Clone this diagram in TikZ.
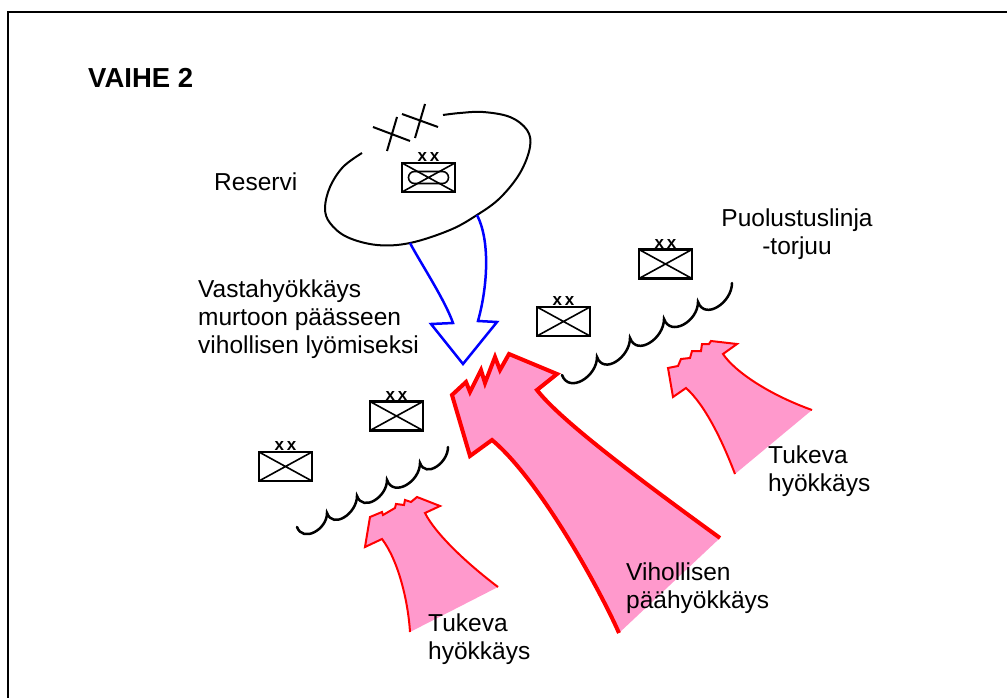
\documentclass[tikz,border=0pt]{standalone}
\usepackage{fontspec}
\setmainfont{Liberation Sans}
\definecolor{atkpink}{RGB}{255,153,204}
\tikzset{
  lbl/.style={font=\fontsize{24.5}{28}\selectfont, inner sep=0pt, align=left, anchor=base west},
  unitbox/.style={draw, line width=2.7pt, minimum width=53pt, minimum height=29pt, inner sep=0pt,
    path picture={\draw[line width=1.6pt]
      (path picture bounding box.north west) -- (path picture bounding box.south east)
      (path picture bounding box.south west) -- (path picture bounding box.north east);},
    label={[inner sep=0pt, label distance=-0.5pt, font=\fontsize{17}{17}\selectfont\bfseries]above:x\,x}},
  front/.style={line width=2.5pt, line cap=round},
  atkline/.style={red, line width=2pt, line join=miter},
}
\begin{document}
\begin{tikzpicture}[x=1pt,y=1pt]
  \useasboundingbox (0,0) rectangle (1007,-698);
  \draw[line width=2.5pt] (8,-698) -- (8,-12) -- (1007,-12);

  \node[lbl, font=\fontsize{27.5}{30}\selectfont\bfseries] (vaihe) at (88,-88) {VAIHE 2};

  % reserve
  \draw[line width=2pt] plot[smooth, tension=0.6] coordinates {(443,-115) (460,-113) (483,-112)
    (510,-117) (527,-130) (530,-147) (520,-173) (500,-198) (477,-215) (450,-230) (410,-243)
    (377,-245) (347,-237) (330,-223) (325,-208) (330,-187) (343,-167) (362,-153)};
  \draw[line width=2pt] (373,-127) -- (410,-141) (402,-114) -- (438,-127)
    (387,-151) -- (397,-117) (415,-138) -- (425,-104);
  \node[unitbox] (res) at (428.5,-177.5) {};
  \draw[line width=1.6pt, rounded corners=6pt] ([shift={(-20,-6)}]res.center) rectangle ([shift={(20,6)}]res.center);
  \node[lbl] (reservi) at (214,-190) {Reservi};

  % counter attack
  \draw[blue, line width=2.5pt, line join=miter] (410,-243) .. controls (420,-262) and (445,-300) .. (453,-323)
    -- (431,-324) -- (463,-364) -- (497,-322) -- (478,-321)
    .. controls (488,-285) and (490,-240) .. (477,-215);
  \node[lbl] (vasta) at (198,-353) {Vastahyökkäys\\murtoon päässeen\\vihollisen lyömiseksi};

  % defence
  \node[unitbox] (d1) at (285.5,-466.5) {};
  \node[unitbox] (d2) at (396.5,-416) {};
  \node[unitbox] (d3) at (563.5,-321.5) {};
  \node[unitbox] (d4) at (665.5,-264) {};
  \draw[front] (297,-527) to[out=-70,in=-90,looseness=1.3] (327,-513)
    to[out=-70,in=-90,looseness=1.3] (357,-496) to[out=-70,in=-90,looseness=1.3] (387,-480)
    to[out=-70,in=-90,looseness=1.3] (420,-463) to[out=-70,in=-90,looseness=1.3] (448,-447);
  \draw[front] (562,-375) to[out=-70,in=-90,looseness=1.3] (597,-357)
    to[out=-70,in=-90,looseness=1.3] (630,-338) to[out=-70,in=-90,looseness=1.3] (664,-319)
    to[out=-70,in=-90,looseness=1.3] (698,-302) to[out=-70,in=-90,looseness=1.3] (732,-283);
  \node[lbl, align=center, anchor=base] (puol) at (797,-254) {Puolustuslinja\\-torjuu};

  % enemy main attack
  \fill[atkpink] (452,-395) -- (466,-382) -- (470,-392) -- (481,-370) -- (485,-383) -- (495,-357)
    -- (500,-370) -- (509,-354) -- (557,-374) -- (537,-390)
    .. controls (560,-420) and (640,-480) .. (720,-538) -- (619,-633)
    .. controls (600,-590) and (540,-480) .. (492,-440) -- (470,-456) -- cycle;
  \draw[red, line width=4pt, line join=miter] (619,-633) .. controls (600,-590) and (540,-480) .. (492,-440)
    -- (470,-456) -- (452,-395) -- (466,-382) -- (470,-392) -- (481,-370) -- (485,-383) -- (495,-357)
    -- (500,-370) -- (509,-354) -- (557,-374) -- (537,-390)
    .. controls (560,-420) and (640,-480) .. (720,-538);
  \node[lbl] (paa) at (626,-608) {Vihollisen\\päähyökkäys};

  % supporting attacks
  \fill[atkpink] (668,-368) -- (678,-366) -- (681,-359) -- (690,-358) -- (692,-351) -- (701,-351)
    -- (702,-344) -- (709,-344) -- (711,-341) -- (737,-344) -- (723,-354)
    .. controls (735,-372) and (770,-395) .. (812,-410) -- (735,-474)
    .. controls (722,-440) and (705,-405) .. (686,-388) -- (673,-397) -- cycle;
  \draw[atkline] (735,-474) .. controls (722,-440) and (705,-405) .. (686,-388) -- (673,-397)
    -- (668,-368) -- (678,-366) -- (681,-359) -- (690,-358) -- (692,-351) -- (701,-351)
    -- (702,-344) -- (709,-344) -- (711,-341) -- (737,-344) -- (723,-354)
    .. controls (735,-372) and (770,-395) .. (812,-410);
  \node[lbl] (tuk1) at (768,-491) {Tukeva\\hyökkäys};

  \fill[atkpink] (365,-547) -- (370,-517) -- (382,-512) -- (383,-515) -- (395,-508) -- (396,-504)
    -- (404,-505) -- (405,-500) -- (411,-502) -- (417,-497) -- (440,-506) -- (425,-513)
    .. controls (435,-533) and (465,-562) .. (498,-587) -- (410,-632)
    .. controls (408,-600) and (398,-560) .. (382,-539) -- cycle;
  \draw[atkline] (410,-632) .. controls (408,-600) and (398,-560) .. (382,-539) -- (365,-547)
    -- (370,-517) -- (382,-512) -- (383,-515) -- (395,-508) -- (396,-504)
    -- (404,-505) -- (405,-500) -- (411,-502) -- (417,-497) -- (440,-506) -- (425,-513)
    .. controls (435,-533) and (465,-562) .. (498,-587);
  \node[lbl] (tuk2) at (428,-659) {Tukeva\\hyökkäys};
\end{tikzpicture}
\end{document}
